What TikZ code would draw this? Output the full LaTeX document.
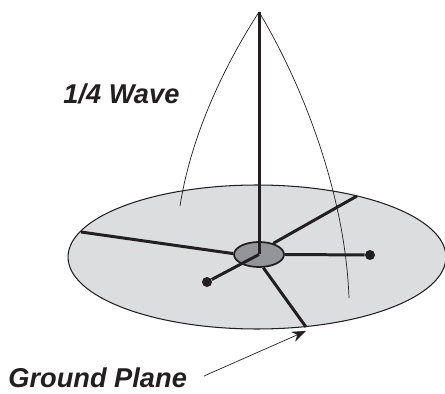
\documentclass[tikz,border=0pt]{standalone}
\usepackage{fontspec}
\setmainfont{Liberation Sans}
\usetikzlibrary{shapes.geometric, arrows.meta, positioning}
\definecolor{planegray}{RGB}{220, 221, 223}
\definecolor{hubgray}{RGB}{147, 149, 152}
\definecolor{inkblack}{RGB}{35, 31, 32}

\begin{document}
\begin{tikzpicture}[
  x=0.02cm, y=-0.02cm,
  disc/.style={ellipse, draw=inkblack, line width=0.6pt, inner sep=0pt},
  wire/.style={draw=inkblack, line width=1.7pt},
  wave/.style={draw=inkblack, line width=0.4pt},
  tipdot/.style={circle, fill=inkblack, inner sep=0pt, minimum size=0.2cm},
  lbl/.style={font=\bfseries\itshape\fontsize{15.5}{18}\selectfont, text=inkblack, inner sep=0pt}
]
  \useasboundingbox (0,0) rectangle (445,394);
  \node[disc, fill=planegray, minimum width=7.56cm, minimum height=2.88cm] (plane) at (257,257) {};
  \node[disc, fill=hubgray, line width=1pt, minimum width=1cm, minimum height=0.5cm] (hub) at (259,254.5) {};
  % mast and its current curves
  \coordinate (top) at (259,12);
  \coordinate (leftend) at (180,206);
  \coordinate (rightend) at (349,298);
  \draw[wire] (top) -- (hub.center);
  \draw[wave] (top) .. controls (228,60) and (192,130) .. (leftend);
  \draw[wave] (top) .. controls (300,80) and (345,190) .. (rightend);
  % radials
  \coordinate (rimleft) at (81,232);
  \coordinate (rimright) at (357,196);
  \coordinate (rimlow) at (306,327);
  \node[tipdot] (dotright) at (370,255) {};
  \node[tipdot] (dotleft) at (207,282) {};
  \draw[wire] (hub.178) -- (rimleft);
  \draw[wire] (hub.38) -- (rimright);
  \draw[wire] (hub.east) -- (dotright);
  \draw[wire] (hub.center) -- (dotleft);
  \draw[wire] (hub.-72) -- (rimlow);
  % labels
  \node[lbl, anchor=base west] (wavelbl) at (63,104) {1/4 Wave};
  \node[lbl, anchor=base west] (planelbl) at (8,387) {Ground Plane};
  \coordinate (arrowstart) at (204,376);
  \coordinate (arrowend) at (306,331);
  \draw[wave, -{Stealth[length=8pt,width=6pt]}] (arrowstart) -- (arrowend);
\end{tikzpicture}
\end{document}
